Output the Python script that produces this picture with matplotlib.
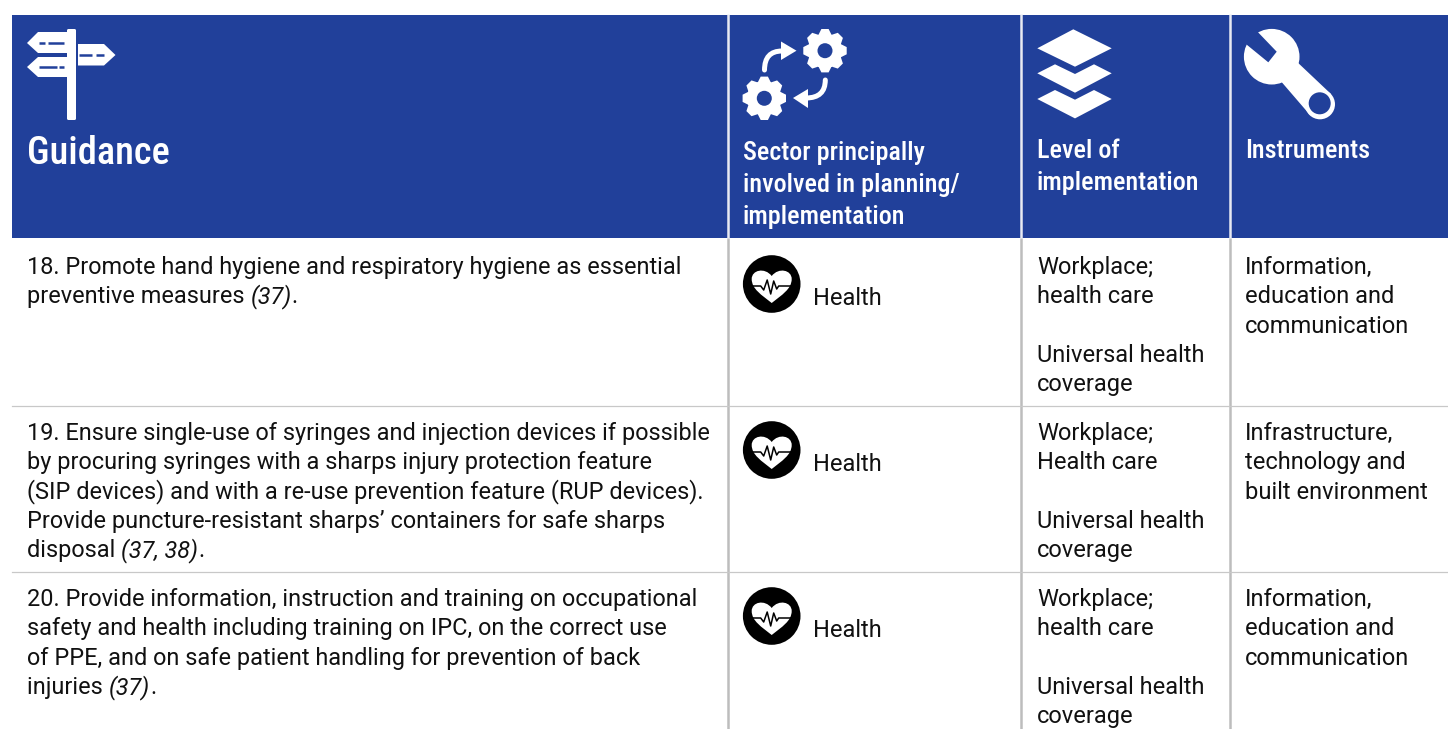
import numpy as np
import matplotlib
matplotlib.use("Agg")
import matplotlib.pyplot as plt
from matplotlib.patches import Polygon, Circle, FancyBboxPatch, PathPatch, Rectangle
from matplotlib.path import Path
import logging
logging.getLogger("matplotlib.font_manager").setLevel(logging.ERROR)

BLUE = "#21409A"
GREY = "#BDBDBD"
BODY = "Roboto"
HEAD = ["Roboto Condensed", "Roboto"]
BODY_SIZE = 17.0
GUIDE_SIZE = 16.88
HEAD_SIZE = 18.8

columns = ["Guidance", "Sector principally\ninvolved in planning/\nimplementation",
           "Level of\nimplementation", "Instruments"]
guidance = [
    [[("18. Promote hand hygiene and respiratory hygiene as essential", False)],
     [("preventive measures ", False), ("(37)", True), (".", False)]],
    [[("19. Ensure single-use of syringes and injection devices if possible", False)],
     [("by procuring syringes with a sharps injury protection feature", False)],
     [("(SIP devices) and with a re-use prevention feature (RUP devices).", False)],
     [("Provide puncture-resistant sharps’ containers for safe sharps", False)],
     [("disposal ", False), ("(37, 38)", True), (".", False)]],
    [[("20. Provide information, instruction and training on occupational", False)],
     [("safety and health including training on IPC, on the correct use", False)],
     [("of PPE, and on safe patient handling for prevention of back", False)],
     [("injuries ", False), ("(37)", True), (".", False)]],
]
sector = ["Health", "Health", "Health"]
level = [
    ["Workplace;", "health care", "", "Universal health", "coverage"],
    ["Workplace;", "Health care", "", "Universal health", "coverage"],
    ["Workplace;", "health care", "", "Universal health", "coverage"],
]
instruments = [
    ["Information,", "education and", "communication"],
    ["Infrastructure,", "technology and", "built environment"],
    ["Information,", "education and", "communication"],
]

W, H = 1448, 729
fig = plt.figure(figsize=(W / 100, H / 100), dpi=100, facecolor="white")
ax = fig.add_axes([0, 0, 1, 1])
ax.set_xlim(0, W)
ax.set_ylim(H, 0)
ax.axis("off")

# Table frame
ax.add_patch(Rectangle((12, 15), W - 12, 222.5, fc=BLUE, ec="none", zorder=1))
SEPS = [727.5, 1021.3, 1229.5]
for x in SEPS:
    ax.plot([x, x], [14, 238], color="#E8EAF2", lw=1.8, zorder=2, solid_capstyle="butt")
    ax.plot([x, x], [238, H], color=GREY, lw=1.8, zorder=2, solid_capstyle="butt")
for y in [406, 572]:
    ax.plot([12, W], [y, y], color="#C8C8C8", lw=0.9, zorder=2)

# Header text
ax.text(27, 164, columns[0], family=HEAD, size=27.6, weight="medium", color="white", va="baseline", zorder=5)
for x, base, txt in [(743, 160, columns[1]), (1037, 158, columns[2]), (1245, 158, columns[3])]:
    for i, ln in enumerate(txt.split("\n")):
        ax.text(x, base + i * 32, ln, family=HEAD, size=HEAD_SIZE, weight="medium", color="white",
                va="baseline", zorder=5)

# Body text
renderer = fig.canvas.get_renderer()


def width(s, italic):
    t = ax.text(0, 0, s + "|", family=BODY, size=GUIDE_SIZE, style="italic" if italic else "normal")
    b = t.get_window_extent(renderer).width
    t.set_text("|")
    b -= t.get_window_extent(renderer).width
    t.remove()
    return b


LINE = 29.35
row_base = [274, 440, 606]
for r, base in enumerate(row_base):
    for i, runs in enumerate(guidance[r]):
        x = 27
        for s, it in runs:
            ax.text(x, base + i * LINE, s, family=BODY, size=GUIDE_SIZE, color="#111111",
                    style="italic" if it else "normal", va="baseline", zorder=5)
            x += width(s, it)
    ax.text(813, base + 31, sector[r], family=BODY, size=BODY_SIZE, color="#111111", va="baseline", zorder=5)
    for i, s in enumerate(level[r]):
        if s:
            ax.text(1037, base + i * LINE, s, family=BODY, size=BODY_SIZE, color="#111111",
                    va="baseline", zorder=5)
    for i, s in enumerate(instruments[r]):
        ax.text(1245, base + i * LINE, s, family=BODY, size=BODY_SIZE, color="#111111", va="baseline", zorder=5)


# Icons
def poly(pts, fc="white", z=3):
    ax.add_patch(Polygon(pts, closed=True, fc=fc, ec="none", zorder=z))


# Signpost
ax.add_patch(FancyBboxPatch((68, 30), 7, 89, boxstyle="round,pad=1,rounding_size=1.5", fc="white", ec="none", zorder=3))
poly([(27, 43), (38, 32), (68, 32), (68, 53), (38, 53)])
poly([(78, 44), (104, 44), (115.5, 55), (104, 65.5), (78, 65.5)])
poly([(27, 67), (38, 57), (68, 57), (68, 77), (38, 77)])
for a, b, y in [(39, 45, 43), (48, 64, 43), (79, 92, 55), (96, 104, 55), (39, 57, 67), (59, 64, 67)]:
    ax.plot([a, b], [y, y], color=BLUE, lw=1.8, zorder=4, solid_capstyle="butt")


# Gears
def gear(cx, cy, ro=22, rr=16.5, hole=7.5, n=8):
    pts = []
    for k in range(n):
        c = 2 * np.pi * k / n
        tw = 0.22
        for ang, rad in [(c - 2 * tw, rr), (c - tw * 0.75, ro), (c + tw * 0.75, ro), (c + 2 * tw, rr)]:
            pts.append((cx + rad * np.cos(ang), cy + rad * np.sin(ang)))
    poly(pts)
    ax.add_patch(Circle((cx, cy), hole, fc=BLUE, ec="none", zorder=4))


gear(825, 50.7)
gear(764.3, 98.3)


def curve(p0, c, p1):
    ax.add_patch(PathPatch(Path([p0, c, p1], [Path.MOVETO, Path.CURVE3, Path.CURVE3]), fc="none", ec="white",
                           lw=3.6, capstyle="round", zorder=3))


curve((764.5, 70), (764.5, 51), (782, 51))
poly([(796.5, 50.7), (781, 41.5), (781, 60)])
curve((825.3, 80), (825.3, 98), (806, 98))
poly([(793, 98), (808, 89), (808, 108)])

# Layers
poly([(1037.3, 48.3), (1073.3, 29.3), (1111.7, 48.3), (1075, 66.7)])
chev = [(1037.3, 73.3), (1055, 64.3), (1075, 74), (1094, 64.3), (1111.7, 73.3), (1075, 92.7)]
poly(chev)
poly([(x, y + 25.7) for x, y in chev])

# Wrench
ax.add_patch(Circle((1271.7, 56.7), 27.8, fc="white", ec="none", zorder=3))
poly([(1276.7, 51.7), (1268.3, 62.3), (1241, 40), (1252, 26)], fc=BLUE, z=4)
poly([(1279, 79), (1295, 60), (1331, 94), (1310, 115)])
ax.add_patch(Circle((1320, 104.3), 15, fc="white", ec="none", zorder=3))
ax.add_patch(Circle((1319.7, 103.3), 11, fc=BLUE, ec="none", zorder=4))


# Health icon
def health(cy):
    cx = 771.7
    ax.add_patch(Circle((cx, cy), 28.8, fc="black", ec="none", zorder=3))
    v = [(cx, cy + 19), (cx - 10, cy + 11), (cx - 20, cy + 5), (cx - 20, cy - 5),
         (cx - 20, cy - 14), (cx - 7, cy - 17), (cx, cy - 8),
         (cx + 7, cy - 17), (cx + 20, cy - 14), (cx + 20, cy - 5),
         (cx + 20, cy + 5), (cx + 10, cy + 11), (cx, cy + 19)]
    codes = [Path.MOVETO] + [Path.CURVE4] * 12
    ax.add_patch(PathPatch(Path(v, codes), fc="white", ec="none", zorder=4))
    px = [-20, -11, -8, -4.5, -1, 2, 5, 7, 20]
    py = [2, 2, 6, -4, 10, -3, 5, 2, 2]
    ax.plot([cx + a for a in px], [cy + b for b in py], color="black", lw=1.1, zorder=5)


for c in [284, 450, 616]:
    health(c)

fig.savefig("out.png", dpi=100, facecolor="white")
